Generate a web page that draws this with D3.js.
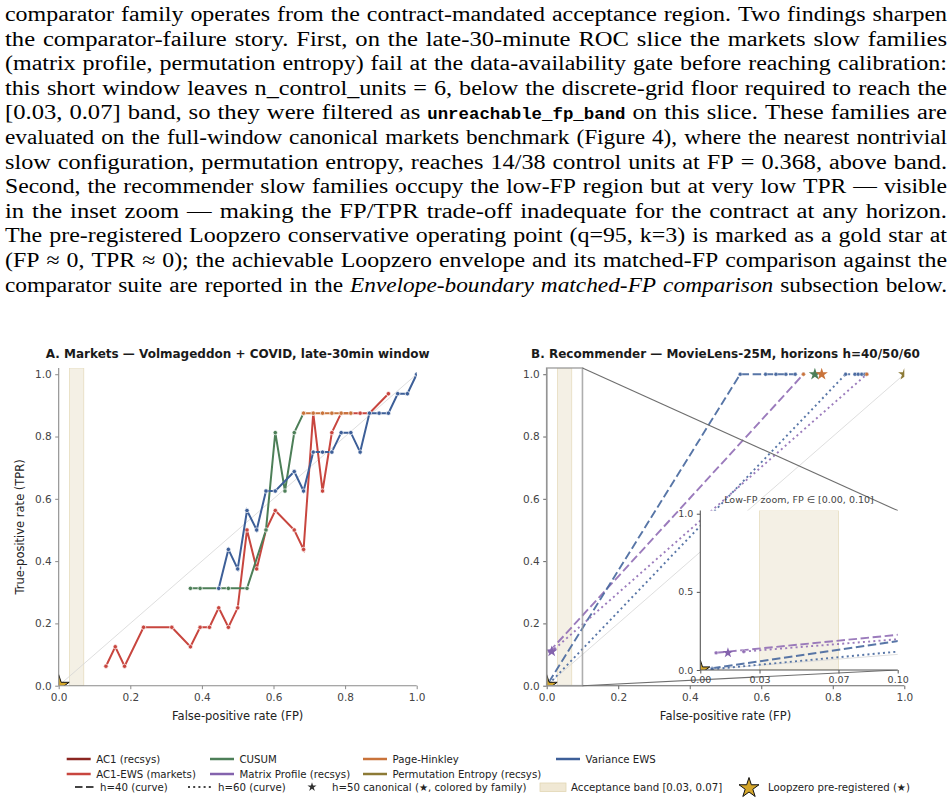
<!DOCTYPE html>
<html>
<head>
<meta charset="utf-8">
<script src="https://cdn.jsdelivr.net/npm/d3@7"></script>
<style>
  body { margin: 0; background: #fff; }
  svg { display: block; }
</style>
</head>
<body>
<svg id="fig" width="952" height="799"></svg>
<script>
  // ---- text above the figure (one entry per typeset line) ----
  const paraLines = [
    "comparator family operates from the contract-mandated acceptance region. Two findings sharpen",
    "the comparator-failure story. First, on the late-30-minute ROC slice the markets slow families",
    "(matrix profile, permutation entropy) fail at the data-availability gate before reaching calibration:",
    "this short window leaves n_control_units = 6, below the discrete-grid floor required to reach the",
    "[0.03, 0.07] band, so they were filtered as `unreachable_fp_band` on this slice. These families are",
    "evaluated on the full-window canonical markets benchmark (Figure 4), where the nearest nontrivial",
    "slow configuration, permutation entropy, reaches 14/38 control units at FP = 0.368, above band.",
    "Second, the recommender slow families occupy the low-FP region but at very low TPR — visible",
    "in the inset zoom — making the FP/TPR trade-off inadequate for the contract at any horizon.",
    "The pre-registered Loopzero conservative operating point (q=95, k=3) is marked as a gold star at",
    "(FP ≈ 0, TPR ≈ 0); the achievable Loopzero envelope and its matched-FP comparison against the",
    "comparator suite are reported in the *Envelope-boundary* *matched-FP* *comparison* subsection below."
  ];

  // ---- families ----
  const families = ["AC1 (recsys)", "AC1-EWS (markets)", "CUSUM", "Matrix Profile (recsys)",
                    "Page-Hinkley", "Permutation Entropy (recsys)", "Variance EWS"];
  const familyColors = ["#8b2621", "#c8463f", "#4d7f58", "#8463ad", "#c9733a", "#8c7a36", "#3d5f98"];

  // ---- panel A: markets, late-30min window ----
  const ac1EwsFP  = [0.132, 0.158, 0.184, 0.237, 0.316, 0.368, 0.395, 0.421, 0.447, 0.474, 0.500, 0.526, 0.553,
                     0.579, 0.605, 0.658, 0.684, 0.711, 0.737, 0.763, 0.789, 0.816, 0.842, 0.868, 0.921];
  const ac1EwsTPR = [0.0625, 0.125, 0.0625, 0.1875, 0.1875, 0.125, 0.1875, 0.1875, 0.25, 0.1875, 0.25, 0.5, 0.375,
                     0.5, 0.5625, 0.5, 0.4375, 0.875, 0.625, 0.8125, 0.875, 0.875, 0.875, 0.875, 0.9375];
  const cusumFP   = [0.368, 0.395, 0.447, 0.474, 0.526, 0.579, 0.605, 0.632, 0.658, 0.684];
  const cusumTPR  = [0.3125, 0.3125, 0.3125, 0.3125, 0.3125, 0.5, 0.8125, 0.625, 0.8125, 0.875];
  const phFP      = [0.684, 0.711, 0.737, 0.763, 0.789, 0.816];
  const phTPR     = [0.875, 0.875, 0.875, 0.875, 0.875, 0.875];
  const varEwsFP  = [0.447, 0.474, 0.500, 0.526, 0.553, 0.579, 0.605, 0.658, 0.684, 0.711, 0.737, 0.763, 0.789,
                     0.816, 0.842, 0.868, 0.895, 0.921, 0.947, 0.974, 1.000];
  const varEwsTPR = [0.3125, 0.4375, 0.375, 0.5625, 0.5, 0.625, 0.625, 0.6875, 0.625, 0.75, 0.75, 0.75, 0.8125,
                     0.8125, 0.75, 0.875, 0.875, 0.875, 0.9375, 0.9375, 1.0];

  // ---- panel B: recommender, horizons 40 (dashed) / 60 (dotted) ----
  const varEws40FP  = [0.006, 0.541, 0.612, 0.641, 0.669, 0.695];
  const varEws40TPR = [0.011, 1, 1, 1, 1, 1];
  const mp40FP      = [0.008, 0.718];
  const mp40TPR     = [0.110, 1];
  const ph40FP      = [0.718];
  const ph40TPR     = [1];
  const varEws60FP  = [0.006, 0.836, 0.862, 0.871, 0.881, 0.890];
  const varEws60TPR = [0.005, 1, 1, 1, 1, 1];
  const mp60FP      = [0.022, 0.895];
  const mp60TPR     = [0.118, 1];
  const ph60FP      = [0.895];
  const ph60TPR     = [1];
  // h=50 canonical points (family, FP, TPR)
  const canonFamily = ["Matrix Profile (recsys)", "CUSUM", "Page-Hinkley", "Permutation Entropy (recsys)"];
  const canonFP     = [0.014, 0.750, 0.769, 1.0];
  const canonTPR    = [0.110, 1, 1, 1];

  const band = [0.03, 0.07];
  const loopzero = [0, 0];
  const mainTicks = [0, 0.2, 0.4, 0.6, 0.8, 1.0];
  const insetXTicks = [0, 0.03, 0.07, 0.10];
  const insetYTicks = [0, 0.5, 1.0];

  const color = d3.scaleOrdinal(families, familyColors);
  const sans = "'DejaVu Sans', sans-serif";
  const svg = d3.select("#fig");

  // ---------- paragraph, justified word by word ----------
  // Times is narrower than Computer Modern, so words get stretched a little
  // before the leftover space is shared between the gaps.
  const para = svg.append("g");
  const paraLeft = 5, paraRight = 947, paraTop = 21, paraLead = 24.6, baseGap = 7;
  paraLines.forEach((line, i) => {
    const y = paraTop + i * paraLead;
    const words = line.split(" ").map((w) => {
      let txt = w, fam = "'Liberation Serif', serif", style = "normal", weight = "normal", size = 20.5, mono = false;
      if (w.startsWith("`")) { txt = w.replace(/`/g, ""); fam = "'Liberation Mono', monospace"; weight = "bold"; size = 17.4; mono = true; }
      if (w.startsWith("*")) { txt = w.replace(/\*/g, ""); style = "italic"; }
      const t = para.append("text")
        .attr("y", y)
        .style("font-family", fam)
        .style("font-size", size + "px")
        .style("font-style", style)
        .style("font-weight", weight)
        .attr("fill", "#000")
        .text(txt);
      return {t: t, w: t.node().getComputedTextLength(), mono: mono};
    });
    const nGaps = words.length - 1;
    const serifW = d3.sum(words.filter((d) => !d.mono), (d) => d.w);
    const monoW = d3.sum(words.filter((d) => d.mono), (d) => d.w);
    const s = Math.max(1, Math.min(1.2, (paraRight - paraLeft - nGaps * baseGap - monoW) / serifW));
    words.forEach((d) => {
      if (!d.mono && s > 1.001) {
        d.w = d.w * s;
        d.t.attr("textLength", d.w).attr("lengthAdjust", "spacingAndGlyphs");
      }
    });
    const gap = (paraRight - paraLeft - d3.sum(words, (d) => d.w)) / nGaps;
    let x = paraLeft;
    words.forEach((d) => { d.t.attr("x", x); x += d.w + gap; });
  });

  // ---------- helpers ----------
  const zip = (xs, ys) => xs.map((v, i) => [v, ys[i]]);
  const star = (r) => d3.symbol(d3.symbolStar, r * r / 0.8908)();

  function makeAxes(box, xDomain, id) {
    const x = d3.scaleLinear().domain(xDomain).range([box.left, box.right]);
    const y = d3.scaleLinear().domain([0, 1.02]).range([box.bottom, box.top]);
    svg.append("clipPath").attr("id", id)
       .append("rect")
       .attr("x", box.left).attr("y", box.top)
       .attr("width", box.right - box.left).attr("height", box.bottom - box.top);
    return {x, y, clip: "url(#" + id + ")"};
  }

  function drawBand(g, ax) {
    g.append("rect")
     .attr("x", ax.x(band[0])).attr("y", ax.y(1.02))
     .attr("width", ax.x(band[1]) - ax.x(band[0]))
     .attr("height", ax.y(0) - ax.y(1.02))
     .attr("fill", "#f4f0e5")
     .attr("stroke", "#e6dcbf")
     .attr("stroke-width", 0.8);
  }

  function drawDiag(g, ax, x1) {
    g.append("line")
     .attr("x1", ax.x(0)).attr("y1", ax.y(0))
     .attr("x2", ax.x(x1)).attr("y2", ax.y(x1))
     .attr("stroke", "#d6d6d6").attr("stroke-width", 0.8);
  }

  function drawSeries(g, ax, pts, col, opts) {
    const line = d3.line().x((d) => ax.x(d[0])).y((d) => ax.y(d[1]));
    if (pts.length > 1) {
      g.append("path")
       .datum(pts)
       .attr("d", line)
       .attr("fill", "none")
       .attr("stroke", col)
       .attr("stroke-width", opts.lw)
       .attr("stroke-dasharray", opts.dash || null)
       .attr("stroke-opacity", opts.alpha || 1);
    }
    g.selectAll(null)
     .data(pts)
     .enter()
     .append("circle")
     .attr("cx", (d) => ax.x(d[0]))
     .attr("cy", (d) => ax.y(d[1]))
     .attr("r", opts.r)
     .attr("fill", col)
     .attr("stroke", "#fff")
     .attr("stroke-width", opts.edge);
  }

  function drawStar(g, ax, fx, ty, r, fill, stroke) {
    g.append("path")
     .attr("d", star(r))
     .attr("transform", "translate(" + ax.x(fx) + "," + ax.y(ty) + ")")
     .attr("fill", fill)
     .attr("stroke", stroke)
     .attr("stroke-width", 1);
  }

  function drawTicks(ax, xTicks, yTicks, xFmt, yFmt, fs, spine, xPad) {
    const xa = svg.append("g")
      .attr("transform", "translate(0," + ax.y(0) + ")")
      .call(d3.axisBottom(ax.x).tickValues(xTicks).tickFormat(d3.format(xFmt)).tickSize(3.5).tickPadding(xPad));
    const ya = svg.append("g")
      .attr("transform", "translate(" + ax.x.range()[0] + ",0)")
      .call(d3.axisLeft(ax.y).tickValues(yTicks).tickFormat(d3.format(yFmt)).tickSize(3.5).tickPadding(3.5));
    [xa, ya].forEach((a) => {
      a.select(".domain").remove();
      a.selectAll("line").attr("stroke", spine);
      a.selectAll("text").attr("fill", "#444").style("font-family", sans).style("font-size", fs + "px");
    });
    // spines (y-range runs a touch past 1.0)
    svg.append("line")
       .attr("x1", ax.x.range()[0]).attr("x2", ax.x.range()[1])
       .attr("y1", ax.y(0)).attr("y2", ax.y(0))
       .attr("stroke", spine).attr("stroke-width", 1.1);
    svg.append("line")
       .attr("x1", ax.x.range()[0]).attr("x2", ax.x.range()[0])
       .attr("y1", ax.y(0)).attr("y2", ax.y(1.02))
       .attr("stroke", spine).attr("stroke-width", 1.1);
  }

  function title(txt, cx, y) {
    svg.append("text")
       .attr("x", cx).attr("y", y)
       .attr("text-anchor", "middle")
       .style("font-family", sans)
       .style("font-size", "12px")
       .style("font-weight", "bold")
       .attr("fill", "#1a1a1a")
       .text(txt);
  }

  function xLabel(cx) {
    svg.append("text")
       .attr("x", cx).attr("y", 720)
       .attr("text-anchor", "middle")
       .style("font-family", sans)
       .style("font-size", "11.5px")
       .attr("fill", "#222")
       .text("False-positive rate (FP)");
  }

  // ---------- panel A ----------
  const boxA = {left: 58.7, right: 416.7, top: 368, bottom: 685.7};
  const axA = makeAxes(boxA, [0, 1], "clipA");
  const gA = svg.append("g").attr("clip-path", axA.clip);
  drawBand(gA, axA);
  drawDiag(gA, axA, 1);
  const markOpts = {lw: 2, r: 2.2, edge: 0.7};
  drawSeries(gA, axA, zip(ac1EwsFP, ac1EwsTPR), color("AC1-EWS (markets)"), markOpts);
  drawSeries(gA, axA, zip(cusumFP, cusumTPR), color("CUSUM"), markOpts);
  drawSeries(gA, axA, zip(phFP, phTPR), color("Page-Hinkley"), markOpts);
  drawSeries(gA, axA, zip(varEwsFP, varEwsTPR), color("Variance EWS"), markOpts);
  drawStar(gA, axA, loopzero[0], loopzero[1], 11, "#d4a62a", "#111");
  drawTicks(axA, mainTicks, mainTicks, ".1f", ".1f", 10.5, "#8a8a8a", 4.5);
  title("A. Markets — Volmageddon + COVID, late-30min window", (boxA.left + boxA.right) / 2, 358);
  xLabel((boxA.left + boxA.right) / 2);
  svg.append("text")
     .attr("transform", "translate(24," + (boxA.top + boxA.bottom) / 2 + ") rotate(-90)")
     .attr("text-anchor", "middle")
     .style("font-family", sans)
     .style("font-size", "11.5px")
     .attr("fill", "#222")
     .text("True-positive rate (TPR)");

  // ---------- panel B ----------
  const boxB = {left: 546.7, right: 904.3, top: 368, bottom: 685.7};
  const boxI = {left: 700.3, right: 897.7, top: 510.6, bottom: 670};

  function recsysContent(g, ax, rStar, rMP) {
    drawBand(g, ax);
    drawDiag(g, ax, 1);
    const dashed = {lw: 1.9, r: 1.9, edge: 0.4, dash: "8.5,3.6", alpha: 0.92};
    const dotted = {lw: 1.9, r: 1.9, edge: 0.4, dash: "2,3.2", alpha: 0.92};
    drawSeries(g, ax, zip(mp40FP, mp40TPR), "#9270b6", dashed);
    drawSeries(g, ax, zip(varEws40FP, varEws40TPR), "#4a6aa0", dashed);
    drawSeries(g, ax, zip(ph40FP, ph40TPR), color("Page-Hinkley"), dashed);
    drawSeries(g, ax, zip(mp60FP, mp60TPR), "#9270b6", dotted);
    drawSeries(g, ax, zip(varEws60FP, varEws60TPR), "#4a6aa0", dotted);
    drawSeries(g, ax, zip(ph60FP, ph60TPR), color("Page-Hinkley"), dotted);
    canonFamily.forEach((f, i) => {
      drawStar(g, ax, canonFP[i], canonTPR[i], i === 0 ? rMP : 6.5, color(f), "none");
    });
    drawStar(g, ax, loopzero[0], loopzero[1], rStar, "#d4a62a", "#111");
  }

  const axB = makeAxes(boxB, [0, 1], "clipB");
  const gB = svg.append("g").attr("clip-path", axB.clip);
  recsysContent(gB, axB, 11, 6);
  drawTicks(axB, mainTicks, mainTicks, ".1f", ".1f", 10.5, "#666", 4.5);
  title("B. Recommender — MovieLens-25M, horizons h=40/50/60", (boxB.left + boxB.right) / 2, 358);
  xLabel((boxB.left + boxB.right) / 2);

  // zoom indicator on main axes
  svg.append("rect")
     .attr("x", axB.x(0)).attr("y", axB.y(1.02))
     .attr("width", axB.x(0.1) - axB.x(0))
     .attr("height", axB.y(0) - axB.y(1.02))
     .attr("fill", "none")
     .attr("stroke", "#9a9a9a").attr("stroke-opacity", 0.8)
     .attr("stroke-width", 1.6);
  svg.append("line")
     .attr("x1", axB.x(0.1)).attr("y1", axB.y(1.02))
     .attr("x2", boxI.right).attr("y2", boxI.top)
     .attr("stroke", "#6e6e6e").attr("stroke-width", 1.1);
  svg.append("line")
     .attr("x1", axB.x(0.1)).attr("y1", axB.y(0))
     .attr("x2", boxI.right).attr("y2", boxI.bottom)
     .attr("stroke", "#6e6e6e").attr("stroke-width", 1.1);

  // inset
  const axI = makeAxes(boxI, [0, 0.1], "clipI");
  svg.append("rect")
     .attr("x", boxI.left).attr("y", boxI.top)
     .attr("width", boxI.right - boxI.left).attr("height", boxI.bottom - boxI.top)
     .attr("fill", "#fff");
  const gI = svg.append("g").attr("clip-path", axI.clip);
  recsysContent(gI, axI, 10, 5.5);
  drawTicks(axI, insetXTicks, insetYTicks, ".2f", ".1f", 9.5, "#555", 3);
  svg.append("text")
     .attr("x", (boxI.left + boxI.right) / 2).attr("y", 503)
     .attr("text-anchor", "middle")
     .style("font-family", sans)
     .style("font-size", "9.5px")
     .attr("fill", "#444")
     .text("Low-FP zoom, FP ∈ [0.00, 0.10]");

  // ---------- legend ----------
  const leg = svg.append("g").style("font-family", sans).style("font-size", "10.2px");
  const colX = [66.7, 210, 363, 556];
  const rowY = [759, 774];
  families.forEach((f, i) => {
    const cx = colX[Math.floor(i / 2)], cy = rowY[i % 2];
    leg.append("line")
       .attr("x1", cx).attr("x2", cx + 24).attr("y1", cy).attr("y2", cy)
       .attr("stroke", color(f)).attr("stroke-width", 2.5);
    leg.append("text").attr("x", cx + 29.5).attr("y", cy + 3.6).attr("fill", "#222").text(f);
  });

  const r3 = 787;
  leg.append("line").attr("x1", 75).attr("x2", 95).attr("y1", r3).attr("y2", r3)
     .attr("stroke", "#444").attr("stroke-width", 1.8).attr("stroke-dasharray", "7.5,3.5");
  leg.append("text").attr("x", 100).attr("y", r3 + 3.6).attr("fill", "#222").text("h=40 (curve)");
  leg.append("line").attr("x1", 188).attr("x2", 211).attr("y1", r3).attr("y2", r3)
     .attr("stroke", "#444").attr("stroke-width", 1.8).attr("stroke-dasharray", "2,3.2");
  leg.append("text").attr("x", 218).attr("y", r3 + 3.6).attr("fill", "#222").text("h=60 (curve)");
  leg.append("path").attr("d", star(4.8)).attr("transform", "translate(312," + r3 + ")").attr("fill", "#333");
  leg.append("text").attr("x", 332).attr("y", r3 + 3.6).attr("fill", "#222").text("h=50 canonical (★, colored by family)");
  leg.append("rect").attr("x", 540).attr("y", r3 - 4).attr("width", 26).attr("height", 8.5)
     .attr("fill", "#f0e8d4").attr("stroke", "#e2d6b3").attr("stroke-width", 0.8);
  leg.append("text").attr("x", 571).attr("y", r3 + 3.6).attr("fill", "#222").text("Acceptance band [0.03, 0.07]");
  leg.append("path").attr("d", star(10.5)).attr("transform", "translate(749," + (r3 + 1) + ")")
     .attr("fill", "#d4a62a").attr("stroke", "#111").attr("stroke-width", 1);
  leg.append("text").attr("x", 768).attr("y", r3 + 3.6).attr("fill", "#222").text("Loopzero pre-registered (★)");
</script>
</body>
</html>
